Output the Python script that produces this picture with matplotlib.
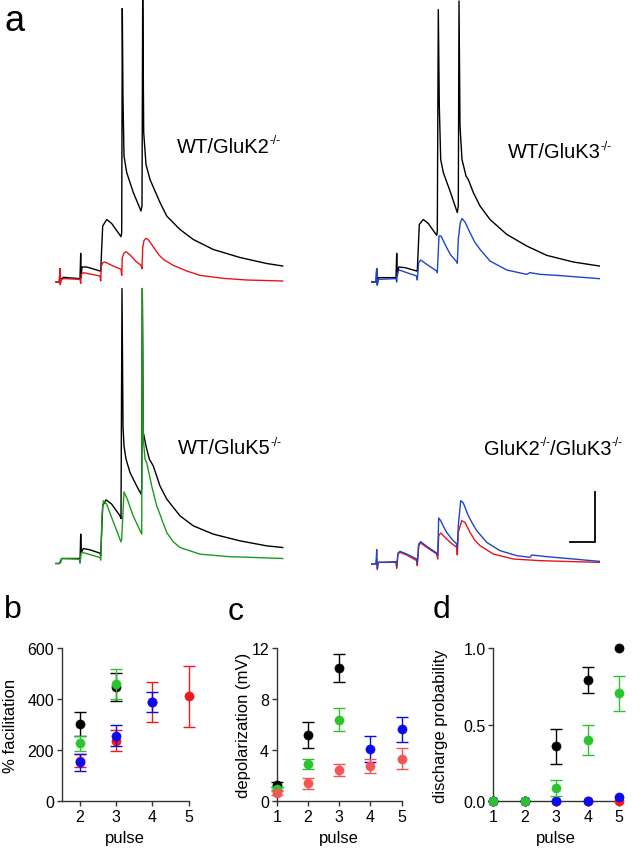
import matplotlib
matplotlib.use('Agg')
import matplotlib.pyplot as plt

plt.rcParams['font.family'] = ['Liberation Sans', 'DejaVu Sans']

W, H = 639, 853
fig = plt.figure(figsize=(W / 100, H / 100), dpi=100)

# ---------------- traces (time in ms, membrane potential in mV re baseline) --------
tl_black_t = [0, 3.3, 4, 4.3, 5, 7.3, 24, 24.7, 25, 26, 30.7, 44, 44.7, 46.7, 50.7, 55.7, 65, 65.7, 66.3,
              67, 68, 70.7, 77.3, 85, 86, 86.7, 87.7, 90, 94, 99, 104, 110.7, 124, 137.3, 157.3, 184,
              210.7, 226.7]
tl_black_v = [0, 0, 2.67, -0.33, 0.53, 0.93, 0.67, 5.73, 0.87, 3.0, 3.0, 2.2, 2.2, 11.2, 12.5, 11.7, 9.07,
              9.87, 54.7, 36.5, 25.2, 21.9, 17.9, 14.2, 15.2, 58, 29.9, 23.5, 20.5, 18.2, 15.9, 13.2, 10.5,
              8.5, 6.5, 4.9, 3.7, 3.2]
tl_red_t = [0, 3.3, 4, 4.3, 5, 7.3, 24, 24.7, 25.3, 27.3, 44, 44.7, 45.3, 47, 49, 52, 55.7, 65, 65.7, 66.3,
            68, 70, 73, 75.7, 80, 85, 86, 86.7, 88, 90, 92, 94, 99, 103, 107.3, 117.3, 130.7, 144, 167.3,
            190.7, 226.7]
tl_red_v = [0, 0, 2.67, -0.53, 0.4, 0.67, 0.53, -0.27, 1.53, 1.87, 1.2, 0.2, 3.2, 3.9, 4.0, 3.7, 3.33,
            2.53, 1.33, 4.87, 5.8, 6.07, 5.6, 5.07, 4.1, 3.33, 2.67, 6.87, 8.3, 8.73, 8.5, 8.0, 6.53,
            5.4, 4.53, 3.33, 2.2, 1.33, 0.73, 0.4, 0.2]

tr_black_t = [-1, 3.3, 4, 4.6, 5.6, 23.3, 24, 24.6, 26, 32.3, 44, 44.6, 46.6, 50.6, 55.6, 64, 64.6, 65.6,
              66.6, 68, 70.6, 77.3, 84.6, 85.6, 86.3, 87.3, 89.3, 93.3, 95.6, 100.6, 107.3, 117.3, 134,
              154, 174, 200.6, 226.6]
tr_black_v = [0, 0, 2.67, -0.47, 0.87, 0.87, 5.73, 1.2, 3.0, 2.87, 2.2, 2.2, 11.5, 12.5, 11.7, 9.33, 10.2,
              54.5, 35.2, 24.5, 21.9, 18.2, 13.9, 15.2, 56.2, 31.2, 24.5, 21.2, 20.5, 17.9, 15.2, 12.5, 9.53,
              7.2, 5.33, 4.0, 3.2]
tr_blue_t = [-1, 3.3, 4, 4.6, 5.6, 23.3, 24, 24.6, 26.6, 34, 44, 44.6, 46, 48, 54, 64, 64.6, 66.3, 68.3,
             71, 74, 78, 83.3, 84.6, 85.6, 87.5, 89.3, 92.3, 97.3, 102, 107.3, 117.3, 134, 154, 157.3, 167.3,
             184, 200.6, 226.6]
tr_blue_v = [0, 0, 2.67, -0.67, 0.53, 0.67, 0, 1.87, 2.4, 1.87, 1.2, 0.4, 3.87, 4.4, 3.53, 2.2, 1.87, 9.2,
             9.2, 8.1, 6.87, 5.4, 4.2, 3.73, 8.53, 11.8, 12.7, 12.0, 9.87, 8.0, 6.53, 4.2, 2.4, 1.53, 1.87,
             1.53, 1.33, 1.07, 0.67]

bl_black_t = [0, 3.3, 4, 5.7, 23.3, 24, 24.7, 25.3, 27.3, 34, 44, 44.7, 46.7, 50, 55.7, 64, 65, 66, 67, 68,
              70, 74, 80.7, 85, 85.7, 86.3, 87.3, 90, 93.3, 97.3, 104, 110.7, 124, 137.3, 157.3, 184, 210.7,
              226.7]
bl_black_v = [0, 0, 0.2, 1.0, 1.0, 0.2, 5.87, 2.2, 3.0, 2.73, 2.07, 1.53, 11.53, 12.73, 11.87, 9.53, 9.0,
              55, 27.5, 23.5, 20.9, 18.2, 15.5, 13.9, 14.9, 55, 26.2, 23.5, 20.9, 19.5, 15.5, 12.9, 9.53,
              7.53, 5.87, 4.53, 3.53, 3.2]
bl_green_t = [0, 3.3, 4.7, 5.7, 23.3, 24, 25.3, 29, 44, 44.7, 46, 47.3, 50.7, 56, 65, 65.7, 68, 71.3, 77,
              85, 85.7, 86.3, 87.3, 89, 90.7, 95.7, 100.7, 103.3, 105.7, 110.7, 117, 124, 144, 170.7, 226.7]
bl_green_v = [0, 0, 0.2, 1.0, 0.87, 0.07, 2.2, 2.07, 1.2, 0.67, 9.53, 12.53, 11.87, 9.0, 4.33, 4.87, 14.33,
              12.87, 9.6, 6.2, 5.87, 55, 24.9, 20.9, 20.2, 15.5, 11.53, 10.2, 8.87, 6.2, 4.4, 3.2, 1.87,
              1.4, 1.0]

br_blue_t = [-1, 3.3, 4, 4.6, 5.6, 23.3, 24, 25.3, 27.3, 34, 44, 44.6, 46, 48, 54, 64, 65, 66, 68, 71, 74,
             79, 84, 84.6, 85.6, 88, 90.6, 95.6, 100, 104, 114, 127.3, 144, 157.3, 159, 174, 200.6, 226.6]
br_blue_v = [0, 0, 2.87, -0.87, 0.33, 0.47, -0.33, 2.2, 2.53, 2.0, 1.0, 0.33, 4.0, 4.47, 3.53, 2.2, 1.67,
             9.2, 8.67, 7.4, 6.33, 5.0, 4.0, 3.33, 7.67, 12.67, 12.2, 9.67, 8.0, 6.67, 4.33, 2.67, 1.67,
             1.33, 1.8, 1.47, 1.0, 0.53]
br_red_t = [-1, 3.3, 4, 4.6, 5.6, 23.3, 24, 25.3, 27.3, 34, 44, 44.6, 46, 48, 54, 64, 65, 66, 68, 71, 74,
            79, 84, 84.6, 85.6, 89, 92.3, 97.3, 102, 107.3, 120.6, 140.6, 167.3, 200.6, 226.6]
br_red_v = [0, 0, 1.0, -1.13, 0.33, 0.33, -0.87, 2.0, 2.33, 1.8, 0.67, -0.33, 3.67, 4.2, 3.33, 2.0, 1.0,
            5.67, 6.2, 5.6, 5.0, 4.1, 3.33, 1.8, 6.33, 8.67, 8.33, 6.33, 4.8, 3.67, 2.0, 1.0, 0.67, 0.47,
            0.33]

scale_t_ms = 25
scale_v_mv = 10

# label pieces: (text, is_superscript)
label_tl = [("WT/GluK2", False), ("-/-", True)]
label_tr = [("WT/GluK3", False), ("-/-", True)]
label_bl = [("WT/GluK5", False), ("-/-", True)]
label_br = [("GluK2", False), ("-/-", True), ("/GluK3", False), ("-/-", True)]

# ---------------- summary data ----------------
b_black_x, b_black_y, b_black_e = [2, 3], [303, 450], [46, 55]
b_green_x, b_green_y, b_green_e = [2, 3], [227, 460], [30, 60]
b_red_x, b_red_y, b_red_e = [2, 3, 4, 5], [160, 238, 388, 412], [25, 40, 78, 120]
b_blue_x, b_blue_y, b_blue_e = [2, 3, 4], [153, 257, 388], [33, 41, 39]

c_black_x, c_black_y, c_black_e = [1, 2, 3], [1.3, 5.2, 10.45], [0.2, 1.0, 1.1]
c_green_x, c_green_y, c_green_e = [1, 2, 3], [1.0, 2.9, 6.4], [0.15, 0.4, 0.9]
c_blue_x, c_blue_y, c_blue_e = [4, 5], [4.1, 5.65], [1.0, 1.0]
c_red_x, c_red_y, c_red_e = [1, 2, 3, 4, 5], [0.65, 1.4, 2.45, 2.75, 3.35], [0.15, 0.4, 0.5, 0.55, 0.8]

d_x = [1, 2, 3, 4, 5]
d_black_y, d_black_e = [0, 0, 0.36, 0.795, 1.0], [0, 0, 0.115, 0.085, 0]
d_red_y, d_red_e = [0, 0, 0, 0, 0], [0, 0, 0, 0, 0]
d_blue_y, d_blue_e = [0, 0, 0, 0, 0.028], [0, 0, 0, 0, 0]
d_green_y, d_green_e = [0, 0, 0.087, 0.40, 0.706], [0, 0, 0.05, 0.1, 0.113]

C_BLACK = '#000000'
C_TRED = '#e8141c'
C_TBLUE = '#1f45c8'
C_TGREEN = '#1c9a1c'
C_RED = '#f01818'
C_RED_C = '#f25555'
C_BLUE = '#0a0aef'
C_GREEN = '#2cc42c'


def ax_px(left, top, width, height):
    return fig.add_axes([left / W, 1 - (top + height) / H, width / W, height / H])


def trace_ax(left, baseline_y):
    ax = ax_px(left, baseline_y - 280, 230, 300)
    ax.set_xlim(0, 230)
    ax.set_ylim(-4, 56)
    ax.axis('off')
    return ax


def trace_label(ax, x, y, parts, size=14.5):
    first = ax.text(x, y, parts[0][0], fontsize=size, va='baseline', ha='left')
    prev = first
    for txt, sup in parts[1:]:
        if sup:
            prev = ax.annotate(txt, xy=(1, 0.5), xycoords=(prev, first), fontsize=8.5,
                               va='bottom', ha='left', annotation_clip=False)
        else:
            prev = ax.annotate(txt, xy=(1, 0), xycoords=(prev, first), fontsize=size,
                               va='bottom', ha='left', annotation_clip=False)


lw = 1.0
ax_tl = trace_ax(56, 283)
ax_tl.plot(tl_black_t, tl_black_v, color=C_BLACK, lw=lw, clip_on=False)
ax_tl.plot(tl_red_t, tl_red_v, color=C_TRED, lw=lw, clip_on=False)
trace_label(ax_tl, 121, 26, label_tl)

ax_tr = trace_ax(372.7, 283)
ax_tr.plot(tr_black_t, tr_black_v, color=C_BLACK, lw=lw, clip_on=False)
ax_tr.plot(tr_blue_t, tr_blue_v, color=C_TBLUE, lw=lw, clip_on=False)
trace_label(ax_tr, 135, 25, label_tr)

ax_bl = trace_ax(56, 564.5)
ax_bl.plot(bl_black_t, bl_black_v, color=C_BLACK, lw=lw, clip_on=False, zorder=2)
ax_bl.plot(bl_green_t, bl_green_v, color=C_TGREEN, lw=lw, clip_on=False, zorder=3)
trace_label(ax_bl, 122, 22, label_bl)

ax_br = trace_ax(372.7, 565)
ax_br.plot(br_blue_t, br_blue_v, color=C_TBLUE, lw=lw, clip_on=False, zorder=3)
ax_br.plot(br_red_t, br_red_v, color=C_TRED, lw=lw, clip_on=False, zorder=2)
trace_label(ax_br, 111, 22, label_br)
sb_t0, sb_v0 = 222.3, 4.33
ax_br.plot([sb_t0 - scale_t_ms, sb_t0, sb_t0], [sb_v0, sb_v0, sb_v0 + scale_v_mv], color='black',
           lw=1.3, clip_on=False, solid_joinstyle='miter')


# ---------------- summary panels ----------------
def style(ax):
    for s in ['top', 'right']:
        ax.spines[s].set_visible(False)
    for s in ['left', 'bottom']:
        ax.spines[s].set_color('#333333')
        ax.spines[s].set_linewidth(1.0)
    ax.tick_params(direction='out', length=3.5, width=1.0, colors='#333333', labelsize=11.5,
                   labelcolor='black', pad=2)


def eb(ax, x, y, e, color, z):
    xe = [xi for xi, ei in zip(x, e) if ei > 0]
    ye = [yi for yi, ei in zip(y, e) if ei > 0]
    ee = [ei for ei in e if ei > 0]
    if ee:
        ax.errorbar(xe, ye, yerr=ee, fmt='none', ecolor=color, elinewidth=1.0,
                    capsize=4.6, capthick=1.0, clip_on=False, zorder=z)
    ax.plot(x, y, 'o', color=color, ms=6.6, mec=color, mew=0.4, clip_on=False, zorder=z + 0.5)


LABEL_FS = 12
XLAB_Y = -0.19

ax_b = ax_px(61.7, 649.3, 127, 153)
style(ax_b)
eb(ax_b, b_black_x, b_black_y, b_black_e, C_BLACK, 3)
eb(ax_b, b_green_x, b_green_y, b_green_e, C_GREEN, 4)
eb(ax_b, b_red_x, b_red_y, b_red_e, C_RED, 5)
eb(ax_b, b_blue_x, b_blue_y, b_blue_e, C_BLUE, 6)
ax_b.set_xlim(1.5, 5)
ax_b.set_ylim(0, 600)
ax_b.set_xticks([2, 3, 4, 5])
ax_b.set_yticks([0, 200, 400, 600])
ax_b.set_ylabel('% facilitation', fontsize=LABEL_FS)
ax_b.yaxis.set_label_coords(-0.345, 0.5)
ax_b.set_xlabel('pulse', fontsize=LABEL_FS)
ax_b.xaxis.set_label_coords(0.5, XLAB_Y)

ax_c = ax_px(276.7, 649.3, 125, 153)
style(ax_c)
eb(ax_c, c_black_x, c_black_y, c_black_e, C_BLACK, 3)
eb(ax_c, c_green_x, c_green_y, c_green_e, C_GREEN, 4)
eb(ax_c, c_blue_x, c_blue_y, c_blue_e, C_BLUE, 5)
eb(ax_c, c_red_x, c_red_y, c_red_e, C_RED_C, 6)
ax_c.set_xlim(1, 5)
ax_c.set_ylim(0, 12)
ax_c.set_xticks([1, 2, 3, 4, 5])
ax_c.set_yticks([0, 4, 8, 12])
ax_c.set_ylabel('depolarization (mV)', fontsize=LABEL_FS)
ax_c.yaxis.set_label_coords(-0.205, 0.5)
ax_c.set_xlabel('pulse', fontsize=LABEL_FS)
ax_c.xaxis.set_label_coords(0.5, XLAB_Y)

ax_d = ax_px(493.3, 649.3, 126, 153)
style(ax_d)
eb(ax_d, d_x, d_black_y, d_black_e, C_BLACK, 3)
eb(ax_d, d_x, d_red_y, d_red_e, C_RED, 4)
eb(ax_d, d_x, d_blue_y, d_blue_e, C_BLUE, 5)
eb(ax_d, d_x, d_green_y, d_green_e, C_GREEN, 6)
ax_d.set_xlim(1, 5)
ax_d.set_ylim(0, 1)
ax_d.set_xticks([1, 2, 3, 4, 5])
ax_d.set_yticks([0, 0.5, 1.0])
ax_d.set_yticklabels(['0.0', '0.5', '1.0'])
ax_d.set_ylabel('discharge probability', fontsize=LABEL_FS)
ax_d.yaxis.set_label_coords(-0.36, 0.5)
ax_d.set_xlabel('pulse', fontsize=LABEL_FS)
ax_d.xaxis.set_label_coords(0.5, XLAB_Y)

# panel letters
fig.text(4 / W, 1 - 31 / H, 'a', fontsize=26, va='baseline')
fig.text(4 / W, 1 - 618 / H, 'b', fontsize=23, va='baseline')
fig.text(228 / W, 1 - 620 / H, 'c', fontsize=23, va='baseline')
fig.text(433 / W, 1 - 618 / H, 'd', fontsize=23, va='baseline')

fig.savefig('out.png', dpi=100)
